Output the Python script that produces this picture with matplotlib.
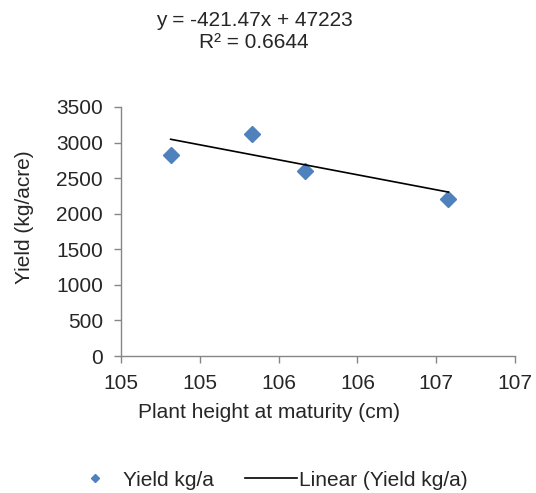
import numpy as np
import matplotlib.pyplot as plt

# data
height = [104.815, 105.333, 105.667, 106.577]
yield_kg = [2821, 3125, 2596, 2203]
slope = -421.47
intercept = 47223
r2 = 0.6644

x_ticks = [104.5, 105.0, 105.5, 106.0, 106.5, 107.0]
x_tick_labels = ["105", "105", "106", "106", "107", "107"]
y_ticks = [0, 500, 1000, 1500, 2000, 2500, 3000, 3500]

plt.rcParams["font.family"] = ["Liberation Sans", "DejaVu Sans"]
fs = 15

axis_gray = "#868686"
text_color = "#262626"
blue = "#4F81BD"

fig = plt.figure(figsize=(5.36, 4.93), dpi=100)
ax = fig.add_axes([121 / 536, 1 - 356 / 493, 394 / 536, 249 / 493])

ax.plot(height, yield_kg, linestyle="none", marker="D", markersize=8.5,
        color=blue, label="Yield kg/a")

trend_x = np.array([min(height), max(height)])
ax.plot(trend_x, slope * trend_x + intercept, color="black", linewidth=1.2,
        label="Linear (Yield kg/a)")

ax.set_xlim(104.5, 107.0)
ax.set_ylim(0, 3500)
ax.set_xticks(x_ticks)
ax.set_xticklabels(x_tick_labels)
ax.set_yticks(y_ticks)

for side in ["top", "right"]:
    ax.spines[side].set_visible(False)
for side in ["left", "bottom"]:
    ax.spines[side].set_color(axis_gray)
    ax.spines[side].set_linewidth(1.0)
ax.tick_params(colors=axis_gray, labelcolor=text_color, length=5, width=1.0,
               labelsize=fs)
ax.tick_params(axis="y", pad=8)
ax.tick_params(axis="x", pad=8)

# Excel puts the axis titles off-centre, so place them by hand
ax.set_xlabel("Plant height at maturity (cm)", fontsize=fs, color=text_color)
ax.xaxis.set_label_coords((269 - 121) / 394, (356 - 403) / 249)
ax.set_ylabel("Yield (kg/acre)", fontsize=fs, color=text_color)
ax.yaxis.label.set_va("center")
ax.yaxis.set_label_coords((25 - 121) / 394, (356 - 217) / 249)

fig.text(254 / 536, 1 - 20 / 493, "y = -421.47x + 47223", ha="center",
         va="center", fontsize=fs, color=text_color)
fig.text(254 / 536, 1 - 42 / 493, "R² = %.4f" % r2, ha="center",
         va="center", fontsize=fs, color=text_color)

fig.legend(loc="center", bbox_to_anchor=(0.5, 1 - 480 / 493), ncol=2,
           frameon=False, fontsize=fs, markerscale=0.5, handlelength=2.5,
           handletextpad=0.1, columnspacing=1.5, labelcolor=text_color)

plt.savefig("out.png", dpi=100)
